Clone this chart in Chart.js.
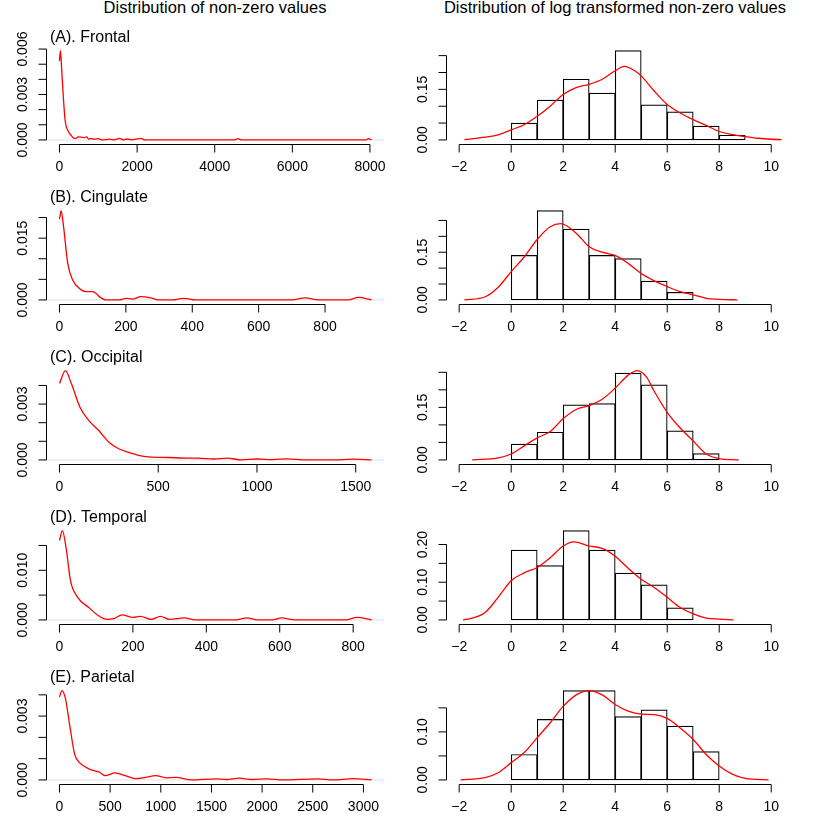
<!DOCTYPE html>
<html>
<head>
<meta charset="utf-8">
<script src="https://cdn.jsdelivr.net/npm/chart.js@4"></script>
<style>
  body { margin: 0; background: #fff; font-family: "Liberation Sans", Arial, sans-serif; }
  #wrap { position: relative; width: 830px; height: 830px; }
  .col-title { position: absolute; top: -2px; font-size: 16.5px; color: #000; transform: translateX(-50%); white-space: nowrap; }
  canvas { position: absolute; }
</style>
</head>
<body>
<div id="wrap">
  <div class="col-title" style="left:215px">Distribution of non-zero values</div>
  <div class="col-title" style="left:615px">Distribution of log transformed non-zero values</div>
</div>
<script>
// ── Data ──────────────────────────────────────────────────────────────────
const panelTitles = ['(A). Frontal', '(B). Cingulate', '(C). Occipital', '(D). Temporal', '(E). Parietal'];

// raw-scale densities
const frontalRawX   = [0,25,60,100,145,230,300,360,420,480,560,640,700,760,800,900,1000,1100,1300,1400,1550,1650,1750,1850,2100,2200,2300,4500,4600,4700,7900,7960,8040];
const frontalRawY   = [0.0052,0.0059,0.0045,0.0028,0.0013,0.00056,0.0003,0.00013,0.0001,0.0002,0.00018,0.00015,0.0002,0.00005,0.00008,0.00005,0.00008,0,0.00005,0,0.0001,0,0.00006,0,0.0001,0,0,0,0.00008,0,0,0.00008,0];
const cingulateRawX = [0,5,12,25,40,60,80,100,110,120,140,180,200,220,245,280,300,340,375,410,700,740,780,870,900,940];
const cingulateRawY = [0.0196,0.0217,0.018,0.0088,0.0048,0.0028,0.002,0.002,0.0016,0.0008,0,0,0.0004,0.0002,0.0008,0.0004,0,0,0.0004,0,0,0.0005,0,0,0.0006,0];
const occipitalRawX = [0,30,60,105,150,200,250,300,350,400,450,550,650,700,780,850,920,1000,1080,1150,1250,1400,1480,1580];
const occipitalRawY = [0.0041,0.0048,0.0041,0.0028,0.0021,0.00157,0.00095,0.0006,0.0004,0.00025,0.00016,0.00013,0.0001,0.0001,0.00005,0.0001,0,0.00005,0.00002,0.00006,0,0,0.00004,0];
const temporalRawX  = [0,8,18,30,50,80,100,130,150,170,200,220,250,275,300,340,370,480,510,540,580,605,640,780,810,850];
const temporalRawY  = [0.016,0.018,0.0145,0.0079,0.0045,0.0025,0.0012,0.0001,0.0003,0.001,0.0005,0.0007,0.0001,0.0007,0.0001,0.0004,0,0,0.0004,0,0,0.0004,0,0,0.0005,0];
const parietalRawX  = [0,25,60,100,150,200,300,400,450,550,650,750,850,950,1050,1150,1300,1550,1650,1770,1900,2050,2200,2550,2700,2900,3080];
const parietalRawY  = [0.0039,0.0042,0.0038,0.0026,0.0012,0.0008,0.0005,0.00035,0.0002,0.00033,0.0002,0.00006,0.00012,0.0002,0.0001,0.00012,0,0.00005,0.00002,0.00008,0.00002,0.00005,0,0.00005,0,0.00006,0];

// log-scale histograms (unit bins starting at 0)
const binCenters    = [0.5,1.5,2.5,3.5,4.5,5.5,6.5,7.5,8.5];
const frontalHist   = [0.05,0.118,0.18,0.139,0.265,0.104,0.083,0.041,0.014];
const cingulateHist = [0.14,0.281,0.223,0.14,0.13,0.059,0.024];
const occipitalHist = [0.045,0.079,0.157,0.161,0.248,0.214,0.083,0.018];
const temporalHist  = [0.185,0.144,0.237,0.185,0.124,0.093,0.032];
const parietalHist  = [0.053,0.126,0.186,0.186,0.132,0.146,0.112,0.059];

// log-scale densities
const frontalLogX   = [-1.8,-1,-0.5,0,0.5,1,1.5,2,2.5,3,3.5,4,4.35,4.75,5,5.5,6,6.5,7,7.5,8,8.5,9,9.5,10,10.4];
const frontalLogY   = [0.001,0.008,0.015,0.03,0.045,0.07,0.1,0.135,0.155,0.165,0.18,0.205,0.218,0.205,0.19,0.145,0.105,0.08,0.06,0.043,0.025,0.016,0.01,0.005,0.002,0.001];
const cingulateLogX = [-1.8,-1,-0.5,0,0.5,1,1.5,1.9,2.5,3,3.5,4,4.5,5,5.5,6,6.5,7,7.5,8,8.7];
const cingulateLogY = [0,0.01,0.04,0.089,0.135,0.19,0.23,0.24,0.21,0.167,0.15,0.14,0.115,0.083,0.06,0.042,0.026,0.016,0.005,0.002,0];
const occipitalLogX = [-1.5,-1,-0.5,0,0.5,1,1.5,2,2.5,3,3.5,4,4.5,4.85,5.2,5.5,6,6.5,7,7.5,8,8.75];
const occipitalLogY = [0,0.002,0.006,0.017,0.04,0.063,0.081,0.118,0.144,0.155,0.173,0.205,0.242,0.255,0.237,0.196,0.136,0.091,0.054,0.017,0.004,0];
const temporalLogX  = [-1.85,-1.5,-1,-0.5,0,0.5,1,1.5,2,2.4,3,3.5,4,4.5,5,5.5,6,6.5,7,7.5,8,8.55];
const temporalLogY  = [0,0.005,0.02,0.06,0.104,0.125,0.139,0.165,0.196,0.207,0.196,0.19,0.169,0.137,0.108,0.086,0.06,0.033,0.016,0.005,0.002,0];
const parietalLogX  = [-1.95,-1,-0.5,0,0.5,1,1.5,2,2.5,3,3.5,4,4.5,5,5.5,6,6.5,7,7.5,8,8.5,9,9.9];
const parietalLogY  = [0,0.005,0.015,0.036,0.057,0.088,0.119,0.153,0.177,0.186,0.177,0.157,0.143,0.137,0.136,0.128,0.108,0.084,0.053,0.029,0.012,0.003,0];

// ticks
const rawXTicks = [[0,2000,4000,6000,8000],[0,200,400,600,800],[0,500,1000,1500],[0,200,400,600,800],[0,500,1000,1500,2000,2500,3000]];
const rawYTicks = [[0,0.001,0.002,0.003,0.004,0.005,0.006],[0,0.005,0.01,0.015,0.02],[0,0.001,0.002,0.003,0.004],[0,0.005,0.01,0.015],[0,0.001,0.002,0.003,0.004]];
const rawYLabels = [['0.000','','','0.003','','','0.006'],['0.000','','','0.015',''],['0.000','','','0.003',''],['0.000','','0.010',''],['0.000','','','0.003','']];
const logXTicks = [-2,0,2,4,6,8,10];
const logYTicks = [[0,0.05,0.1,0.15,0.2,0.25],[0,0.05,0.1,0.15,0.2,0.25],[0,0.05,0.1,0.15,0.2,0.25],[0,0.05,0.1,0.15,0.2],[0,0.05,0.1,0.15]];
const logYLabels = [['0.00','','','0.15','',''],['0.00','','','0.15','',''],['0.00','','','0.15','',''],['0.00','','0.10','','0.20'],['0.00','','0.10','']];

const rawX = [frontalRawX, cingulateRawX, occipitalRawX, temporalRawX, parietalRawX];
const rawY = [frontalRawY, cingulateRawY, occipitalRawY, temporalRawY, parietalRawY];
const hists = [frontalHist, cingulateHist, occipitalHist, temporalHist, parietalHist];
const logX = [frontalLogX, cingulateLogX, occipitalLogX, temporalLogX, parietalLogX];
const logY = [frontalLogY, cingulateLogY, occipitalLogY, temporalLogY, parietalLogY];

// ── Layout (R-like plot boxes) ─────────────────────────────────────────────
const ROW_H = 160, COL_W = 415, CANVAS_H = 185;
const BOX_TOP = 47, BOX_BOTTOM = 143.5;
const FONT = '"Liberation Sans", Arial, sans-serif';

// draws R-style axes from the chart's own scales
const rAxes = {
    id: 'rAxes',
    afterDraw(chart, args, o) {
        const c = chart.ctx, xs = chart.scales.x, ys = chart.scales.y, a = chart.chartArea;
        c.save();
        c.strokeStyle = '#000'; c.fillStyle = '#000'; c.lineWidth = 1;
        // x axis
        const xp = o.xTicks.map(v => xs.getPixelForValue(v));
        const yb = Math.round(a.bottom) + 0.5;
        c.beginPath();
        c.moveTo(xp[0], yb); c.lineTo(xp[xp.length - 1], yb);
        xp.forEach(p => { c.moveTo(p, yb); c.lineTo(p, yb + 8); });
        c.stroke();
        c.font = '14px ' + FONT; c.textAlign = 'center'; c.textBaseline = 'middle';
        o.xTicks.forEach((v, i) => c.fillText(v < 0 ? '\u2212' + Math.abs(v) : String(v), xp[i], yb + 23));
        // y axis
        const yp = o.yTicks.map(v => ys.getPixelForValue(v));
        const xl = Math.round(a.left) - 0.5;
        c.beginPath();
        c.moveTo(xl, yp[0]); c.lineTo(xl, yp[yp.length - 1]);
        yp.forEach(p => { c.moveTo(xl, p); c.lineTo(xl - 8, p); });
        c.stroke();
        o.yLabels.forEach((t, i) => {
            if (!t) return;
            c.save(); c.translate(xl - 23, yp[i]); c.rotate(-Math.PI / 2);
            c.fillText(t, 0, 0); c.restore();
        });
        // panel title
        if (o.title) {
            c.font = '16px ' + FONT; c.textAlign = 'left';
            c.fillText(o.title, a.left + 3, 38);
        }
        c.restore();
    },
    beforeDatasetsDraw(chart, args, o) {
        if (!o.zeroLine) return;
        const c = chart.ctx, a = chart.chartArea, y = chart.scales.y.getPixelForValue(0);
        c.save(); c.strokeStyle = '#e0e0e0'; c.lineWidth = 1;
        c.beginPath(); c.moveTo(a.left, y); c.lineTo(a.right, y); c.stroke(); c.restore();
    }
};

function makeCanvas(col, row) {
    const cv = document.createElement('canvas');
    cv.width = COL_W; cv.height = CANVAS_H;
    cv.style.left = (col * COL_W) + 'px';
    cv.style.top = (row * ROW_H) + 'px';
    document.getElementById('wrap').appendChild(cv);
    return cv.getContext('2d');
}

function padRange(lo, hi) { const d = (hi - lo) * 0.04; return [lo - d, hi + d]; }

const baseOpts = (pad) => ({
    responsive: false,
    animation: false,
    events: [],
    layout: { padding: pad },
    plugins: { legend: { display: false }, tooltip: { enabled: false } }
});

for (let r = 0; r < 5; r++) {
    // left: density of raw values
    const xr = rawX[r], yr = rawY[r];
    const [xmin, xmax] = padRange(xr[0], xr[xr.length - 1]);
    const [ymin, ymax] = padRange(0, Math.max(...yr));
    new Chart(makeCanvas(0, r), {
        type: 'line',
        data: { datasets: [{
            data: xr.map((x, i) => ({ x, y: yr[i] })),
            borderColor: '#ff0000', borderWidth: 1.3, pointRadius: 0,
            cubicInterpolationMode: 'monotone', fill: false
        }] },
        options: Object.assign(baseOpts({ left: 47, right: COL_W - 384, top: BOX_TOP, bottom: CANVAS_H - BOX_BOTTOM }), {
            scales: {
                x: { type: 'linear', min: xmin, max: xmax, display: false },
                y: { type: 'linear', min: ymin, max: ymax, display: false }
            },
            plugins: {
                legend: { display: false }, tooltip: { enabled: false },
                rAxes: { xTicks: rawXTicks[r], yTicks: rawYTicks[r], yLabels: rawYLabels[r], title: panelTitles[r], zeroLine: true }
            }
        }),
        plugins: [rAxes]
    });

    // right: histogram of log values + density
    const h = hists[r], lx = logX[r], ly = logY[r];
    const [lymin, lymax] = padRange(0, Math.max(...h, ...ly));
    new Chart(makeCanvas(1, r), {
        type: 'bar',
        data: { datasets: [
            {
                type: 'line',
                data: lx.map((x, i) => ({ x, y: ly[i] })),
                borderColor: '#ff0000', borderWidth: 1.3, pointRadius: 0,
                cubicInterpolationMode: 'monotone', fill: false
            },
            {
                type: 'bar',
                data: h.map((v, i) => ({ x: binCenters[i], y: v })),
                backgroundColor: '#ffffff', borderColor: '#000000', borderWidth: 1.2,
                barPercentage: 1, categoryPercentage: 1, borderSkipped: false
            }
        ] },
        options: Object.assign(baseOpts({ left: 446.7 - COL_W, right: COL_W - (783.7 - COL_W), top: BOX_TOP, bottom: CANVAS_H - BOX_BOTTOM }), {
            scales: {
                x: { type: 'linear', min: -2.48, max: 10.48, offset: false, display: false },
                y: { type: 'linear', min: lymin, max: lymax, display: false }
            },
            plugins: {
                legend: { display: false }, tooltip: { enabled: false },
                rAxes: { xTicks: logXTicks, yTicks: logYTicks[r], yLabels: logYLabels[r] }
            }
        }),
        plugins: [rAxes]
    });
}
</script>
</body>
</html>
